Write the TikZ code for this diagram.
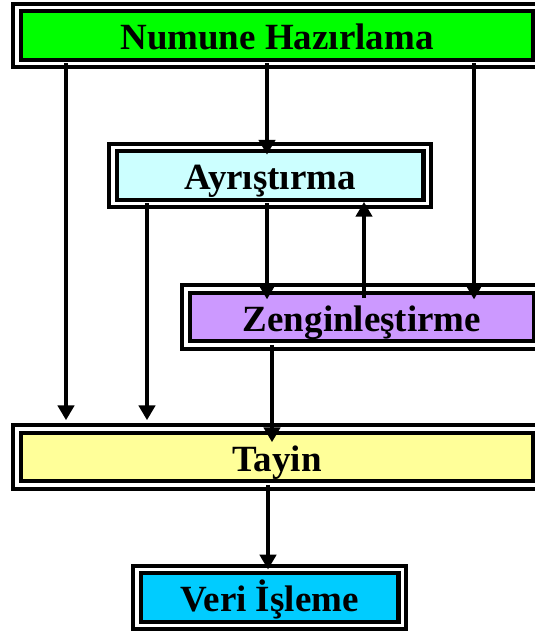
\documentclass[tikz,border=0pt]{standalone}
\usepackage{fontspec}
\setmainfont{Liberation Serif}
\usetikzlibrary{arrows.meta}

\definecolor{numunegreen}{RGB}{0,255,0}
\definecolor{ayrcyan}{RGB}{204,255,255}
\definecolor{zengpurple}{RGB}{204,153,255}
\definecolor{tayinyellow}{RGB}{255,255,153}
\definecolor{vericyan}{RGB}{0,204,255}

\begin{document}
\begin{tikzpicture}[
    box/.style={rectangle, draw=black, line width=2.85pt, double=white, double distance=2.5pt,
        inner sep=0pt, outer sep=0pt, minimum height=1.4cm, text height=20pt, text depth=0pt,
        font=\fontsize{26.3}{30}\selectfont\bfseries},
    arr/.style={line width=2.6pt, -{Triangle[length=10.5pt, width=11.5pt]}}]
    \useasboundingbox (0,0) rectangle (13.35,15.775);

    % 方框
    \node[box, fill=numunegreen, minimum width=13.0125cm] (numune) at (6.925,14.8875) {Numune Hazırlama};
    \node[box, fill=ayrcyan, minimum width=7.8625cm] (ayr) at (6.75,11.3875) {Ayrıştırma};
    \node[box, fill=zengpurple, minimum width=8.8125cm] (zeng) at (9.05,7.85) {Zenginleştirme};
    \node[box, fill=tayinyellow, minimum width=13.0125cm] (tayin) at (6.925,4.35) {Tayin};
    \node[box, fill=vericyan, minimum width=6.6375cm] (veri) at (6.7375,0.8375) {Veri İşleme};

    % 箭头
    \draw[arr, shorten >=0.22cm] (numune.south -| 1.65,0) -- (tayin.north -| 1.65,0);
    \draw[arr, shorten >=-0.18cm] (numune.south -| 6.675,0) -- (ayr.north -| 6.675,0);
    \draw[arr, shorten >=-0.26cm] (numune.south -| 11.85,0) -- (zeng.north -| 11.85,0);
    \draw[arr, shorten >=0.22cm] (ayr.south -| 3.675,0) -- (tayin.north -| 3.675,0);
    \draw[arr, shorten >=-0.26cm] (ayr.south -| 6.675,0) -- (zeng.north -| 6.675,0);
    \draw[arr, shorten <=-0.23cm, shorten >=-0.04cm] (zeng.north -| 9.1,0) -- (ayr.south -| 9.1,0);
    \draw[arr, shorten >=-0.33cm] (zeng.south -| 6.8,0) -- (tayin.north -| 6.8,0);
    \draw[arr] (tayin.south -| 6.7,0) -- (veri.north -| 6.7,0);
\end{tikzpicture}
\end{document}
